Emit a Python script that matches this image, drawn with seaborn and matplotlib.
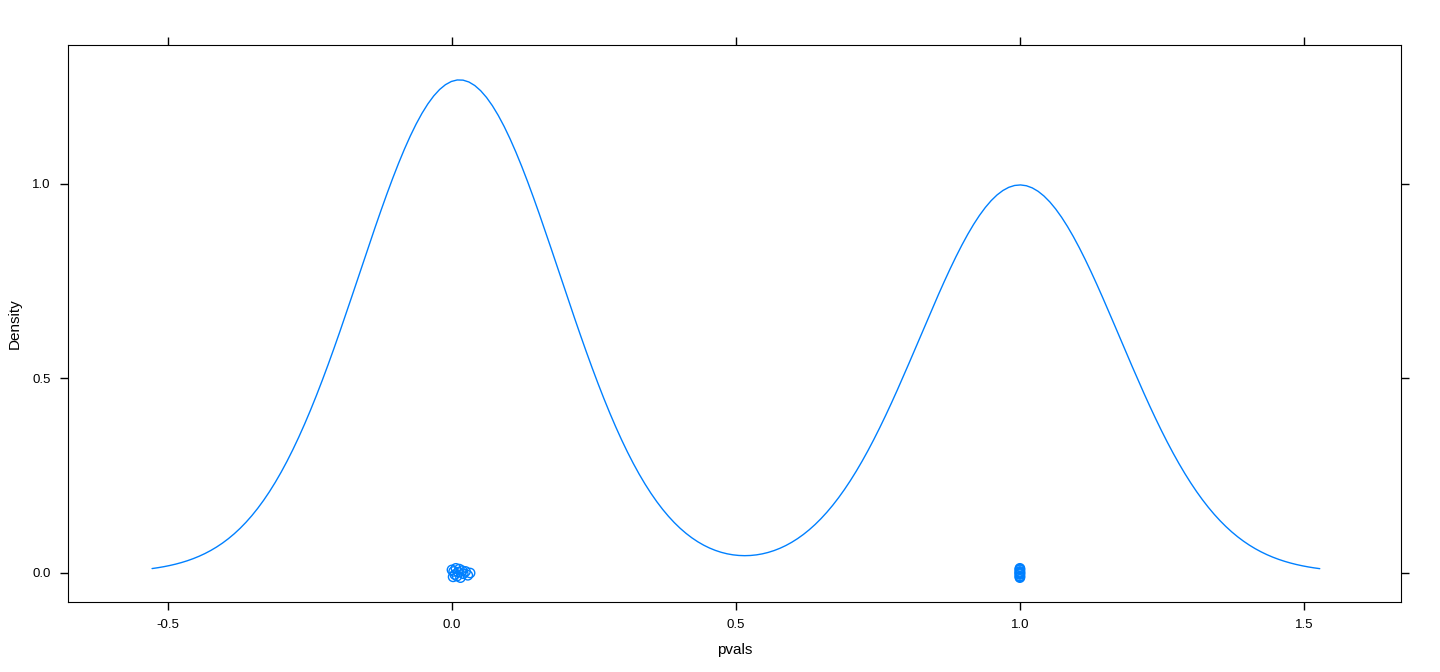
import numpy as np
import pandas as pd
import seaborn as sns
import matplotlib
matplotlib.use("Agg")
import matplotlib.pyplot as plt

# p-values read from the rug points
pvals_low = [0.000, 0.002, 0.003, 0.005, 0.007, 0.009, 0.011, 0.013, 0.015, 0.018, 0.020, 0.024, 0.028, 0.032]
pvals_high = [1.0] * 11
# vertical jitter of the plotted points (as seen in the picture)
jitter_low = [0.008, -0.010, 0.004, -0.004, 0.012, -0.008, 0.002, 0.010, -0.012, 0.006, -0.002, 0.004, -0.006, 0.000]
jitter_high = [0.012, 0.008, 0.004, 0.000, -0.004, -0.008, -0.012, 0.010, -0.010, 0.002, -0.002]

pvals = pvals_low + pvals_high
jitter = jitter_low + jitter_high
df = pd.DataFrame({"pvals": pvals, "y": jitter})

xticks = [-0.5, 0.0, 0.5, 1.0, 1.5]
xtick_labels = ["-0.5", "0.0", "0.5", "1.0", "1.5"]
yticks = [0.0, 0.5, 1.0]
ytick_labels = ["0.0", "0.5", "1.0"]

sns.set_style("white")
plt.rcParams["font.family"] = ["Liberation Sans", "DejaVu Sans"]
plt.rcParams["text.color"] = "black"
plt.rcParams["axes.labelcolor"] = "black"
plt.rcParams["xtick.color"] = "black"
plt.rcParams["ytick.color"] = "black"

blue = "#0080ff"
fig = plt.figure(figsize=(14.4, 6.72), dpi=100)
ax = fig.add_axes([68/1440, 1 - 602/672, (1401 - 68)/1440, (602 - 45)/672])

bandwidth = 0.176
factor = bandwidth / np.std(pvals, ddof=1)
sns.kdeplot(data=df, x="pvals", bw_method=factor, cut=3, color=blue, linewidth=1.0, ax=ax)
sns.scatterplot(data=df, x="pvals", y="y", marker="o", s=45, facecolors="none",
                edgecolor=blue, linewidth=1.0, ax=ax)

ax.set_xlim(-0.676, 1.671)
ax.set_ylim(-0.0746, 1.357)
ax.set_xticks(xticks)
ax.set_xticklabels(xtick_labels)
ax.set_yticks(yticks)
ax.set_yticklabels(ytick_labels)
ax.tick_params(axis="both", direction="out", length=5.5, width=1, labelsize=9.5,
               color="black", labelcolor="black",
               top=True, right=True, bottom=True, left=True,
               labeltop=False, labelright=False, pad=7)
for s in ax.spines.values():
    s.set_visible(True)
    s.set_color("black")
    s.set_linewidth(0.8)
ax.set_xlabel("pvals", fontsize=11, color="black")
ax.set_ylabel("Density", fontsize=11, color="black")
ax.xaxis.set_label_coords(0.5, -48/557, transform=ax.transAxes)
ax.yaxis.set_label_coords(-53/1333, 0.5, transform=ax.transAxes)
ax.xaxis.label.set_va("center")
ax.yaxis.label.set_va("center")
ax.grid(False)

fig.savefig("out.png", dpi=100)
